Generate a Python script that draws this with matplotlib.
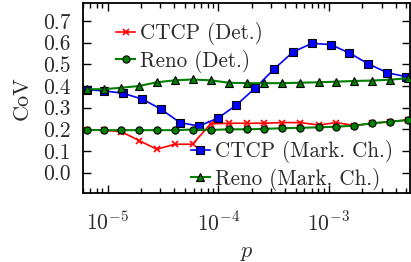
import matplotlib
matplotlib.use('Agg')
import matplotlib.pyplot as plt
from matplotlib.ticker import LogLocator, NullFormatter

plt.rcParams['font.family'] = 'serif'
plt.rcParams['font.serif'] = ['cmr10', 'DejaVu Serif']
plt.rcParams['mathtext.fontset'] = 'cm'
plt.rcParams['axes.unicode_minus'] = False
TXT = '#2a2a2a'

# Data
p_det = [6.51e-6, 9.2e-6, 1.33e-5, 1.93e-5, 2.78e-5, 4.04e-5, 5.86e-5, 8.53e-5,
         1.25e-4, 1.80e-4, 2.61e-4, 3.79e-4, 5.51e-4, 8.05e-4, 1.17e-3, 1.70e-3,
         2.45e-3, 3.56e-3, 5.13e-3]
ctcp_det = [0.196, 0.196, 0.189, 0.148, 0.108, 0.131, 0.131, 0.225, 0.228, 0.228,
            0.228, 0.231, 0.231, 0.220, 0.231, 0.217, 0.228, 0.235, 0.243]
reno_det = [0.197, 0.196, 0.196, 0.196, 0.196, 0.196, 0.199, 0.197, 0.200, 0.200,
            0.202, 0.205, 0.207, 0.209, 0.212, 0.217, 0.228, 0.235, 0.243]
reno_mc = [0.385, 0.385, 0.392, 0.400, 0.417, 0.426, 0.430, 0.426, 0.415, 0.413,
           0.413, 0.413, 0.415, 0.417, 0.420, 0.423, 0.425, 0.429, 0.436]

p_ctcp_mc = [6.51e-6, 9.2e-6, 1.38e-5, 2.05e-5, 3.04e-5, 4.51e-5, 6.68e-5, 9.9e-5,
             1.46e-4, 2.17e-4, 3.21e-4, 4.74e-4, 7.03e-4, 1.04e-3, 1.53e-3, 2.27e-3,
             3.37e-3, 4.96e-3]
ctcp_mc = [0.382, 0.378, 0.366, 0.340, 0.293, 0.231, 0.215, 0.251, 0.312, 0.392,
           0.479, 0.557, 0.597, 0.591, 0.552, 0.502, 0.461, 0.443]

xtick_vals = [1e-5, 1e-4, 1e-3]
xtick_labels = [r'$10^{-5}$', r'$10^{-4}$', r'$10^{-3}$']
ytick_vals = [0.0, 0.1, 0.2, 0.3, 0.4, 0.5, 0.6, 0.7]
ytick_labels = ['0.0', '0.1', '0.2', '0.3', '0.4', '0.5', '0.6', '0.7']

fig = plt.figure(figsize=(4.11, 2.62), dpi=100)
ax = fig.add_axes([83/411, 1 - 193/262, (410 - 83)/411, (193 - 3)/262])

l1, = ax.plot(p_det, ctcp_det, color='#ff0000', lw=1.2, marker='x', ms=4.5, mew=1.2,
              label='CTCP (Det.)', zorder=3)
l2, = ax.plot(p_det, reno_det, color='#008000', lw=1.5, marker='o', ms=5.2, mec='black',
              mfc='#008000', mew=0.8, label='Reno (Det.)', zorder=4)
l3, = ax.plot(p_ctcp_mc, ctcp_mc, color='#0000ff', lw=1.2, marker='s', ms=5.2, mec='black',
              mfc='#0000ff', mew=0.8, label='CTCP (Mark. Ch.)', zorder=3)
l4, = ax.plot(p_det, reno_mc, color='#008000', lw=1.5, marker='^', ms=5.2, mec='black',
              mfc='#008000', mew=0.8, label='Reno (Mark. Ch.)', zorder=3)

ax.set_xscale('log')
ax.set_xlim(6e-6, 5.4e-3)
ax.set_ylim(-0.094, 0.783)
ax.set_xticks(xtick_vals)
ax.set_xticklabels(xtick_labels)
ax.xaxis.set_minor_locator(LogLocator(base=10, subs=range(2, 10), numticks=20))
ax.xaxis.set_minor_formatter(NullFormatter())
ax.set_yticks(ytick_vals)
ax.set_yticklabels(ytick_labels)

ax.tick_params(which='both', direction='in', top=True, right=True, labelsize=15.5,
               width=1.0, labelcolor=TXT)
ax.tick_params(which='major', length=6)
ax.tick_params(axis='y', which='major', pad=9)
ax.tick_params(axis='x', which='major', pad=13)
ax.tick_params(which='minor', length=3.5)
for s in ax.spines.values():
    s.set_linewidth(1.3)

ax.set_xlabel(r'$p$', fontsize=16, labelpad=6, color=TXT)
ax.set_ylabel('CoV', fontsize=16, labelpad=8, color=TXT)

common = dict(frameon=False, fontsize=15.2, handlelength=0.9, handletextpad=0.25,
              labelspacing=0.2, borderaxespad=0, borderpad=0, labelcolor=TXT)
leg1 = ax.legend(handles=[l1, l2], loc='upper left', bbox_to_anchor=(0.101, 0.898),
                 **common)
ax.add_artist(leg1)
ax.legend(handles=[l3, l4], loc='lower left', bbox_to_anchor=(0.330, 0.012), **common)

fig.savefig('out.png', dpi=100)
